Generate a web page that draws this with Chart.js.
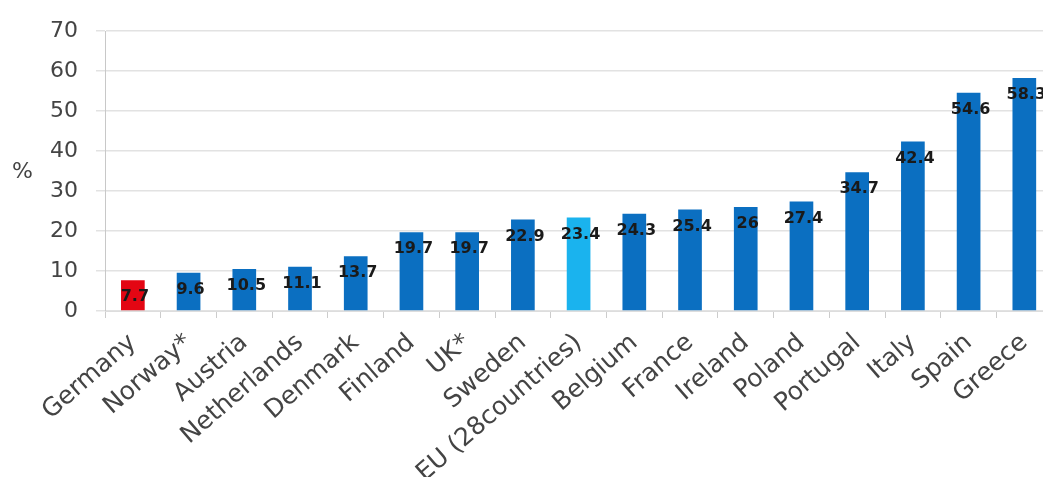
<!DOCTYPE html>
<html><head><meta charset="utf-8">
<script src="https://cdn.jsdelivr.net/npm/chart.js@4"></script>
<style>html,body{margin:0;padding:0;background:#fff;overflow:hidden;width:1043px;height:477px}#w{width:1054px;height:477px}</style>
</head><body><div id="w"><canvas id="c" width="1054" height="477"></canvas></div>
<script>
const categories = ["Germany","Norway*","Austria","Netherlands","Denmark","Finland","UK*","Sweden","EU (28countries)","Belgium","France","Ireland","Poland","Portugal","Italy","Spain","Greece"];
const values = [7.7,9.6,10.5,11.1,13.7,19.7,19.7,22.9,23.4,24.3,25.4,26,27.4,34.7,42.4,54.6,58.3];
const valueLabels = ["7.7","9.6","10.5","11.1","13.7","19.7","19.7","22.9","23.4","24.3","25.4","26","27.4","34.7","42.4","54.6","58.3"];
const yTicks = [0,10,20,30,40,50,60,70];
const barColors = categories.map(c => c==="Germany" ? "#e30613" : (c.startsWith("EU") ? "#1ab3ee" : "#0b6fc1"));
const FONT = "'DejaVu Sans', Verdana, sans-serif";

const labelPlugin = {
  id:'lbl',
  afterDatasetsDraw(chart){
    const ctx = chart.ctx;
    const meta = chart.getDatasetMeta(0);
    ctx.save();
    ctx.font = "bold 16px " + FONT;
    ctx.fillStyle = "#1a1a1a";
    ctx.textAlign = "center"; ctx.textBaseline = "middle";
    meta.data.forEach((b,i)=>{
      ctx.fillText(valueLabels[i], b.x + 2, b.y + 17);
    });
    ctx.fillStyle = "#444";
    ctx.font = "22px " + FONT;
    ctx.textAlign = "left";
    ctx.fillText("%", 12, 172);
    ctx.restore();
  }
};

new Chart(document.getElementById('c'), {
  type:'bar',
  data:{labels:categories, datasets:[{data:values, backgroundColor:barColors, barPercentage:0.85, categoryPercentage:0.5}]},
  options:{
    responsive:false, animation:false, devicePixelRatio:1,
    layout:{padding:{top:31,right:0,left:0,bottom:0}},
    plugins:{legend:{display:false}, tooltip:{enabled:false}},
    scales:{
      y:{min:0,max:70,
         afterFit(s){s.width=105;},
         afterBuildTicks(s){s.ticks = yTicks.map(v=>({value:v}));},
         ticks:{color:"#444", font:{size:22,family:FONT}, padding:18},
         grid:{color:"#e2e2e2", lineWidth:1.5, tickLength:9, drawTicks:true},
         border:{color:"#c8c8c8", width:1}},
      x:{afterFit(s){s.height=166;},
         ticks:{color:"#444", font:{size:25,family:FONT}, minRotation:41, maxRotation:41, autoSkip:false, padding:10},
         grid:{offset:true, drawOnChartArea:false, drawTicks:true, tickLength:7, color:"#cccccc"},
         border:{color:"#dddddd", width:1}}
    }
  },
  plugins:[labelPlugin]
});
</script></body></html>
